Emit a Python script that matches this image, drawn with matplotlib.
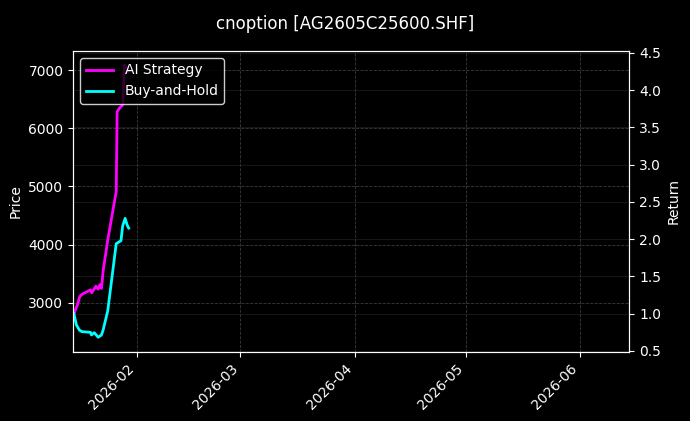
import matplotlib
matplotlib.use("Agg")
import matplotlib.pyplot as plt
import matplotlib.dates as mdates
import pandas as pd

TITLE = "cnoption [AG2605C25600.SHF]"

# AI strategy equity curve (normalised to 1.0 at start)
ai_times = [
    "2026-01-14 22:00", "2026-01-15 21:00", "2026-01-16 12:00", "2026-01-17 02:00",
    "2026-01-19 10:00", "2026-01-19 18:00", "2026-01-20 21:00", "2026-01-21 11:00",
    "2026-01-21 23:00", "2026-01-22 09:00", "2026-01-22 21:00", "2026-01-24 02:00",
    "2026-01-26 09:00", "2026-01-26 15:00", "2026-01-27 06:00", "2026-01-28 03:00",
    "2026-01-28 14:00", "2026-01-29 08:00", "2026-01-29 18:00",
]
ai_return = [
    1.00, 1.12, 1.23, 1.26,
    1.32, 1.28, 1.37, 1.33,
    1.39, 1.34, 1.59, 1.99,
    2.64, 3.71, 3.76, 3.80,
    4.34, 4.30, 4.25,
]

# buy-and-hold curve
bh_times = [
    "2026-01-14 22:00", "2026-01-15 14:00", "2026-01-16 10:00", "2026-01-17 02:00",
    "2026-01-19 10:00", "2026-01-19 16:00", "2026-01-20 10:00", "2026-01-21 12:00",
    "2026-01-22 09:00", "2026-01-22 20:00", "2026-01-24 02:00", "2026-01-26 09:00",
    "2026-01-27 16:00", "2026-01-28 03:00", "2026-01-28 19:00", "2026-01-29 08:00",
    "2026-01-29 18:00",
]
bh_return = [
    1.00, 0.85, 0.78, 0.76,
    0.75, 0.715, 0.746, 0.684,
    0.715, 0.782, 1.04, 1.94,
    1.98, 2.18, 2.28, 2.19,
    2.15,
]

price_ticks = [3000, 4000, 5000, 6000, 7000]
return_ticks = [0.5, 1.0, 1.5, 2.0, 2.5, 3.0, 3.5, 4.0, 4.5]

plt.style.use("dark_background")
fig, ax1 = plt.subplots(figsize=(6.9, 4.21), dpi=100)
fig.subplots_adjust(left=0.106, right=0.912, top=0.879, bottom=0.164)
ax2 = ax1.twinx()

ax2.plot(pd.to_datetime(ai_times), ai_return, color="magenta", lw=2, label="AI Strategy")
ax2.plot(pd.to_datetime(bh_times), bh_return, color="cyan", lw=2, label="Buy-and-Hold")

ax1.set_xlim(pd.Timestamp("2026-01-14 17:00"), pd.Timestamp("2026-06-14 08:00"))
ax1.set_ylim(2155, 7330)
ax1.set_yticks(price_ticks)
ax2.set_yticks(return_ticks)
ax2.set_ylim(0.487, 4.527)

ax1.xaxis.set_major_locator(mdates.MonthLocator())
ax1.xaxis.set_major_formatter(mdates.DateFormatter("%Y-%m"))
plt.setp(ax1.get_xticklabels(), rotation=45, ha="right")

ax1.set_ylabel("Price")
ax2.set_ylabel("Return")

ax1.grid(True, linestyle="--", linewidth=0.6, color="#555555", alpha=0.7)
ax2.grid(True, linestyle="-", linewidth=0.5, color="#333333", alpha=0.6)

ax2.legend(loc="upper left", facecolor="black", edgecolor="white", framealpha=0.8)

fig.suptitle(TITLE, fontsize=12, y=0.965)
fig.savefig("out.png", dpi=100)
